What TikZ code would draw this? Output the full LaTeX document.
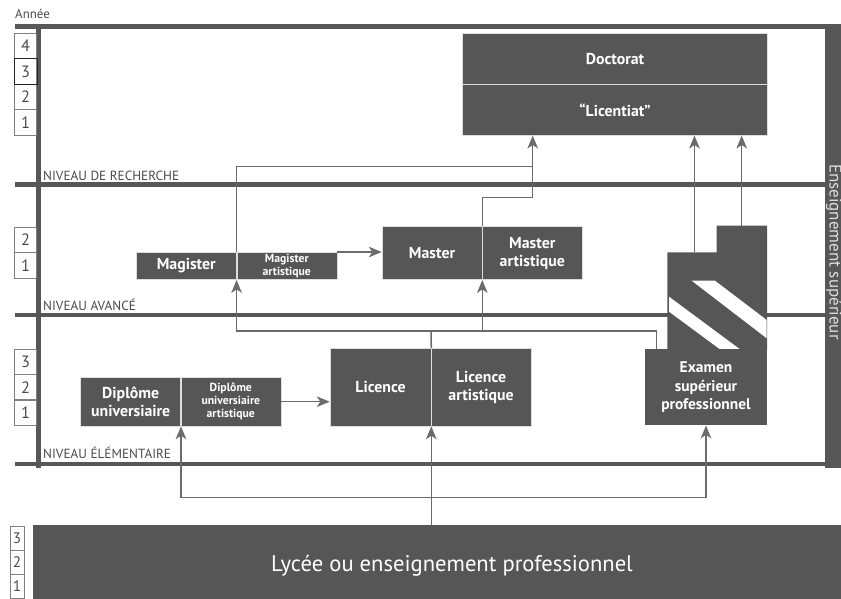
\documentclass[tikz,border=0pt]{standalone}
\usepackage{fontspec}
\setmainfont{PT Sans}
\usepackage{tikz}
\usetikzlibrary{positioning,arrows.meta}
\usepackage{xcolor}

\definecolor{boxgray}{HTML}{565656}
\definecolor{linegray}{HTML}{6B6B6B}
\definecolor{framegray}{HTML}{575757}
\definecolor{txtgray}{HTML}{4A4A4A}

\tikzset{
  box/.style={fill=boxgray, draw=white!80!boxgray, line width=0.5pt, text=white,
    font=\bfseries\fontsize{13.5}{15.5}\selectfont, align=center, inner sep=0pt},
  smallbox/.style={box, font=\bfseries\fontsize{10}{11}\selectfont},
  frame/.style={draw=framegray, line width=3.8pt},
  conn/.style={draw=linegray, line width=1.3pt},
  arr/.style={conn, -{Stealth[length=11pt,width=9pt,inset=3pt]}},
  yearbox/.style={draw=gray, line width=0.5pt, text=txtgray, minimum width=0.66cm,
    inner sep=0pt, font=\fontsize{14}{14}\selectfont},
  levellabel/.style={text=txtgray, font=\fontsize{11.3}{11.3}\selectfont, anchor=base west, inner sep=0pt},
}

\begin{document}
\begin{tikzpicture}[x=0.03cm, y=-0.03cm]
    \useasboundingbox (0,0) rectangle (841,599);

    % Frame of the three levels
    \draw[frame] (15,26.7) -- (825,26.7);
    \draw[frame] (15,184.3) -- (825,184.3);
    \draw[frame] (15,315) -- (825,315);
    \draw[frame] (15,464) -- (825,464);
    \draw[frame] (38.7,24.5) -- (38.7,468);
    \fill[framegray] (825,24.5) rectangle (841,468);
    \node[rotate=-90, anchor=base, text=white!80!framegray, font=\fontsize{14.5}{14.5}\selectfont, inner sep=0pt] (ens) at (829.5,252) {Enseignement supérieur};

    % Year labels
    \node[text=txtgray, font=\fontsize{11}{11}\selectfont, anchor=base west, inner sep=0pt] (annee) at (15,19) {Année};
    \foreach \n [count=\i from 0] in {4,3,2,1}
        \node[yearbox, minimum height=0.765cm] (ytop\n) at (25.7, {46+25.5*\i}) {\n};
    \draw[black!85, line width=0.7pt] (ytop3.north west) rectangle (ytop3.south east);
    \foreach \n [count=\i from 0] in {2,1}
        \node[yearbox, minimum height=0.765cm] (ymid\n) at (25.7, {240+25.5*\i}) {\n};
    \foreach \n [count=\i from 0] in {3,2,1}
        \node[yearbox, minimum height=0.757cm] (ylow\n) at (25.7, {362+25.2*\i}) {\n};
    \foreach \n [count=\i from 0] in {3,2,1}
        \node[yearbox, minimum width=0.42cm, minimum height=0.72cm,
            font=\fontsize{13}{13}\selectfont] (ybot\n) at (17, {538+24*\i}) {\n};

    % Level names
    \node[levellabel] (lvlr) at (43,180.3) {NIVEAU DE RECHERCHE};
    \node[levellabel] (lvla) at (43,310.7) {NIVEAU AVANCÉ};
    \node[levellabel] (lvle) at (43,458.3) {NIVEAU ÉLÉMENTAIRE};

    % Degrees
    \node[box, minimum width=9.16cm, minimum height=1.53cm] (doctorat) at (615,58.8) {Doctorat};
    \node[box, minimum width=9.16cm, minimum height=1.53cm] (licentiat) at (615,109.8) {``Licentiat''};

    \node[box, minimum width=3cm, minimum height=0.82cm] (magister) at (186.3,266) {Magister};
    \node[smallbox, minimum width=3cm, minimum height=0.82cm] (magart) at (286.8,266) {Magister\\artistique};
    \node[box, minimum width=3cm, minimum height=1.59cm] (master) at (432,253.2) {Master};
    \node[box, minimum width=3cm, minimum height=1.59cm] (masterart) at (532.3,253.2) {Master\\artistique};

    \node[box, minimum width=3cm, minimum height=1.46cm] (diplome) at (130.7,401.7) {Diplôme\\universiaire};
    \node[smallbox, minimum width=3cm, minimum height=1.46cm] (diplart) at (230.8,401.7) {Diplôme\\universiaire\\artistique};
    \node[box, minimum width=3.03cm, minimum height=2.33cm] (licence) at (380.5,387.2) {Licence};
    \node[box, minimum width=3cm, minimum height=2.33cm] (licenceart) at (481,387.2) {Licence\\artistique};

    % Examen superieur professionnel
    \fill[boxgray] (667.3,350) -- (667.3,252.3) -- (716.7,252.3) -- (716.7,225.7)
        -- (767,225.7) -- (767,350) -- cycle;
    \fill[white] (669,296.7) -- (740,349.3) -- (720,349.3) -- (669,311.7) -- cycle;
    \fill[white] (691.7,280.7) -- (715,280.7) -- (766.7,320) -- (766.7,338.3) -- cycle;
    \node[box, draw=none, minimum width=3.68cm, minimum height=2.28cm,
        font=\bfseries\fontsize{13.2}{15.6}\selectfont] (examen) at (706,387.2) {Examen\\supérieur\\professionnel};
    \coordinate (exA) at (694.5,252.3);
    \coordinate (exB) at (741.7,225.7);
    \coordinate (exC) at (656.7,349.3);

    % Lycee
    \node[box, draw=none, font=\fontsize{19.3}{19.3}\selectfont, minimum width=25.14cm,
        minimum height=2.46cm] (lycee) at (452,566) {Lycée ou enseignement professionnel};

    % Connectors from the lycee
    \coordinate (jlow) at (430,497.3);
    \draw[arr] (lycee.north -| licence.south east) -- (licence.south east);
    \draw[arr] (jlow) -| (diplome.south east);
    \draw[arr] (jlow) -| (examen.south);

    % Connectors from the licence
    \coordinate (jmid) at (431,331);
    \draw[conn] (licence.north east) -- (jmid);
    \draw[arr] (jmid) -| (magister.south east);
    \draw[arr] (jmid) -| (master.south east);
    \draw[conn] (jmid) -| (exC);

    % Connectors to the doctorat
    \coordinate (jtop) at (532.7,166.7);
    \coordinate (jmast) at (532.7,197.7);
    \draw[arr] (magister.north east) |- (jtop) -- (jtop |- licentiat.south);
    \draw[conn] (master.north east) |- (jmast) -- (jtop);
    \draw[arr] (exA) -- (exA |- licentiat.south);
    \draw[arr] (exB) -- (exB |- licentiat.south);

    % Horizontal steps
    \draw[arr] (magart.north east) -- (magart.north east -| master.west);
    \draw[arr] (diplart.east) -- (diplart.east -| licence.west);
\end{tikzpicture}
\end{document}
